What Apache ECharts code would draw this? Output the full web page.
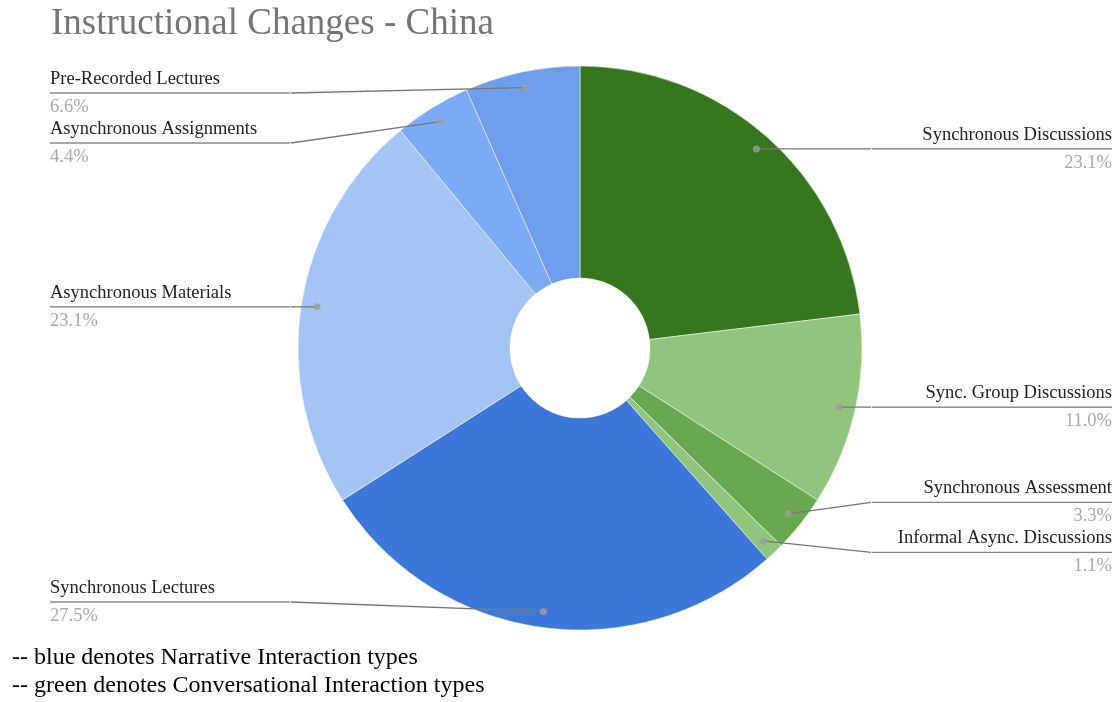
<!DOCTYPE html>
<html>
<head>
<meta charset="utf-8">
<script src="https://cdn.jsdelivr.net/npm/echarts@6/dist/echarts.min.js"></script>
<style>
  html, body { margin: 0; padding: 0; background: #fff; }
  #chart { width: 1120px; height: 702px; }
</style>
</head>
<body>
<div id="chart"></div>
<script>
// Instruction types, clockwise from 12 o'clock
const categories = [
  'Synchronous Discussions',
  'Sync. Group Discussions',
  'Synchronous Assessment',
  'Informal Async. Discussions',
  'Synchronous Lectures',
  'Asynchronous Materials',
  'Asynchronous Assignments',
  'Pre-Recorded Lectures'
];
// Share of each type, in percent
const shares = [23.1, 11.0, 3.3, 1.1, 27.5, 23.1, 4.4, 6.6];
// Greens: conversational types, blues: narrative types
const sliceColors = ['#38761d', '#93c47d', '#6aa84f', '#93c47d', '#3c78d8', '#a4c2f4', '#7baaf7', '#6d9eeb'];
const titleText = 'Instructional Changes - China';
const notes = [
  '-- blue denotes Narrative Interaction types',
  '-- green denotes Conversational Interaction types'
];

const SERIF = '"Liberation Serif", "DejaVu Serif", serif';
const CX = 580, CY = 348;           // pie centre in pixels
const R_OUT = 282, R_IN = 70;       // ring radii
const R_DOT = 266;                  // where each leader line starts
const VIEW_LEFT = 42;               // series box offset on the left
const LABEL_H = 50;                 // vertical room taken by one label
const LABEL_MIN_Y = 93, LABEL_MAX_Y = 602; // allowed range for label rules

const total = shares.reduce((a, b) => a + b, 0);
// angular midpoint of every slice, in the same units as the values
const mids = [];
shares.reduce((acc, v) => { mids.push(acc + v / 2); return acc + v; }, 0);

// Preferred rule height for each label (level with its anchor dot), then
// spread out labels that would collide, keeping each group centred on its anchors.
function spreadLabels() {
  const out = new Array(shares.length);
  const sides = { left: [], right: [] };
  mids.forEach((m, i) => {
    const a = m / total * Math.PI * 2;
    const item = { i, want: CY - R_DOT * Math.cos(a) };
    (Math.sin(a) < 0 ? sides.left : sides.right).push(item);
  });
  Object.values(sides).forEach(list => {
    list.sort((p, q) => p.want - q.want);
    let groups = list.map(it => ({ items: [it] }));
    const place = g => {
      const n = g.items.length;
      const mean = g.items.reduce((s, it) => s + it.want, 0) / n;
      let top = mean - (n - 1) * LABEL_H / 2;
      top = Math.max(top, LABEL_MIN_Y);
      top = Math.min(top, LABEL_MAX_Y - (n - 1) * LABEL_H);
      g.top = top;
      g.bottom = top + (n - 1) * LABEL_H;
    };
    groups.forEach(place);
    let merged = true;
    while (merged) {
      merged = false;
      for (let k = 0; k + 1 < groups.length; k++) {
        if (groups[k].bottom + LABEL_H > groups[k + 1].top) {
          const g = { items: groups[k].items.concat(groups[k + 1].items) };
          place(g);
          groups.splice(k, 2, g);
          merged = true;
          break;
        }
      }
    }
    groups.forEach(g => g.items.forEach((it, k) => { out[it.i] = g.top + k * LABEL_H; }));
  });
  return out;
}
const labelY = spreadLabels();

const sliceData = categories.map((name, i) => ({
  name, value: shares[i], itemStyle: { color: sliceColors[i] }
}));

const chart = echarts.init(document.getElementById('chart'), null, { renderer: 'canvas' });
chart.setOption({
  backgroundColor: '#ffffff',
  animation: false,
  title: {
    text: titleText,
    left: 46, top: 1,
    textStyle: { fontFamily: SERIF, fontSize: 37, fontWeight: 'normal', color: '#757575' }
  },
  polar: { center: [CX, CY], radius: [0, R_OUT] },
  angleAxis: { type: 'value', min: 0, max: total, startAngle: 90, clockwise: true, show: false },
  radiusAxis: { type: 'value', min: 0, max: R_OUT, show: false },
  series: [
    {
      // coloured ring
      type: 'pie',
      z: 1,
      left: VIEW_LEFT, right: 0, top: 0, bottom: 0,
      center: [String(CX - VIEW_LEFT), String(CY)],
      radius: [R_IN, R_OUT],
      startAngle: 90, clockwise: true,
      silent: true,
      label: { show: false }, labelLine: { show: false },
      itemStyle: { borderColor: '#ffffff', borderWidth: 0.5 },
      emphasis: { disabled: true },
      data: sliceData
    },
    {
      // invisible twin that carries the edge-aligned labels
      type: 'pie',
      z: 3,
      left: VIEW_LEFT, right: 0, top: 0, bottom: 0,
      center: [String(CX - VIEW_LEFT), String(CY)],
      radius: [0, R_DOT],
      startAngle: 90, clockwise: true,
      silent: true,
      avoidLabelOverlap: true,
      itemStyle: { color: 'rgba(0,0,0,0)' },
      emphasis: { disabled: true },
      label: {
        show: true,
        position: 'outside',
        alignTo: 'edge',
        edgeDistance: 8,
        distanceToLabelLine: 0,
        width: 240,
        formatter: p => `{name|${p.name}}\n{hr|}\n{per|${p.value.toFixed(1)}%}`,
        rich: {
          name: { fontFamily: SERIF, fontSize: 18.5, color: '#222222', lineHeight: 28 },
          hr: { width: '100%', height: 0, borderColor: '#777777', borderWidth: 0.8 },
          per: { fontFamily: SERIF, fontSize: 18.5, color: '#a8a8a8', lineHeight: 28 }
        }
      },
      labelLine: {
        show: true, length: 0, length2: 10,
        minTurnAngle: 0, maxSurfaceAngle: 180,
        lineStyle: { color: '#777777', width: 1.3 }
      },
      // leader runs straight from the anchor dot to the end of the label rule
      labelLayout: params => {
        const pts = params.labelLinePoints;
        if (!pts) return {};
        const y = labelY[params.dataIndex];
        const start = pts[0];
        const end = [pts[pts.length - 1][0], y];
        return { y, labelLinePoints: [start, start, end] };
      },
      data: categories.map((name, i) => ({ name, value: shares[i] }))
    },
    {
      // anchor dots at the start of each leader line
      type: 'scatter',
      coordinateSystem: 'polar',
      silent: true,
      z: 10,
      symbol: 'circle',
      symbolSize: 7,
      itemStyle: { color: '#9e9e9e' },
      data: mids.map(m => [R_DOT, m])
    }
  ],
  graphic: notes.map((t, i) => ({
    type: 'text',
    left: 12,
    top: 646 + i * 28,
    style: { text: t, font: '24px ' + SERIF, fill: '#000000' }
  }))
});
</script>
</body>
</html>
